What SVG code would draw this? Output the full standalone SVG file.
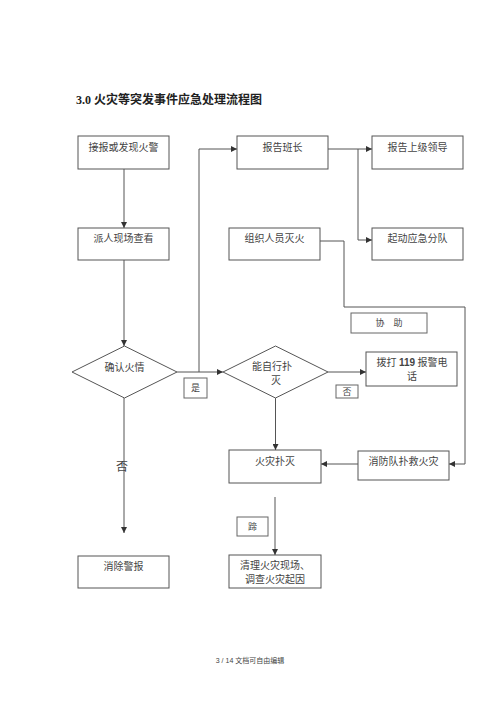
<svg xmlns="http://www.w3.org/2000/svg" width="500" height="708" viewBox="0 0 500 708">
<style>
.box{fill:#fff;stroke:#555;stroke-width:1}
.lbl{fill:#fff;stroke:#666;stroke-width:1}
.t{font-family:"Liberation Serif","Noto Sans CJK SC",serif;font-size:10px;fill:#444;text-anchor:middle}
.s{font-size:9px}
.c{fill:none;stroke:#555;stroke-width:1}
.title{font-family:"Liberation Serif","Noto Sans CJK SC",serif;font-size:12px;font-weight:bold;fill:#222}
.foot{font-family:"Liberation Sans","Noto Sans CJK SC",sans-serif;font-size:7px;fill:#444;text-anchor:middle}
</style>
<defs>
<marker id="ah" markerWidth="6" markerHeight="6" refX="6" refY="3" orient="auto" markerUnits="userSpaceOnUse">
<path d="M0,0 L6,3 L0,6 Z" fill="#333"/>
</marker>
</defs>
<rect width="500" height="708" fill="#fff"/>
<text class="title" x="76" y="104">3.0 火灾等突发事件应急处理流程图</text>

<g id="connectors">
<path class="c" d="M124,169 V228" marker-end="url(#ah)"/>
<path class="c" d="M124,260 V346" marker-end="url(#ah)"/>
<path class="c" d="M177,372 H223" marker-end="url(#ah)"/>
<path class="c" d="M199,372 V149 H237" marker-end="url(#ah)"/>
<path class="c" d="M328,149 H372" marker-end="url(#ah)"/>
<path class="c" d="M358,149 V240 H372" marker-end="url(#ah)"/>
<path class="c" d="M320,241 H344 V307 H465 V464 H449" marker-end="url(#ah)"/>
<path class="c" d="M328,372 H366" marker-end="url(#ah)"/>
<path class="c" d="M275.5,398 V450" marker-end="url(#ah)"/>
<path class="c" d="M358,464 H321" marker-end="url(#ah)"/>
<path class="c" d="M124,398 V533" marker-end="url(#ah)"/>
<path class="c" d="M275,497 V555" marker-end="url(#ah)"/>
</g>

<g id="n1"><rect class="box" x="78" y="136" width="91" height="33"/><text class="t" x="123.5" y="151">接报或发现火警</text></g>
<g id="n2"><rect class="box" x="78" y="228" width="91" height="32"/><text class="t" x="123.5" y="242">派人现场查看</text></g>
<g id="n3"><rect class="box" x="237" y="136" width="91" height="33"/><text class="t" x="282.5" y="151">报告班长</text></g>
<g id="n4"><rect class="box" x="372" y="136" width="91" height="33"/><text class="t" x="417.5" y="151">报告上级领导</text></g>
<g id="n5"><rect class="box" x="372" y="228" width="91" height="32"/><text class="t" x="417.5" y="242">起动应急分队</text></g>
<g id="n6"><rect class="box" x="229" y="228" width="91" height="32"/><text class="t" x="274.5" y="242">组织人员灭火</text></g>
<g id="n7"><rect class="lbl" x="351" y="313" width="76" height="20"/><text class="t s" x="389" y="326">协　助</text></g>
<g id="d1"><path class="box" d="M72,372 L124.5,346 L177,372 L124.5,398 Z"/><text class="t" x="124.5" y="371">确认火情</text></g>
<g id="l1"><rect class="lbl" x="184" y="378" width="23" height="20"/><text class="t s" x="195.5" y="391">是</text></g>
<g id="d2"><path class="box" d="M223,372 L275.5,346 L328,372 L275.5,398 Z"/><text class="t" x="272" y="370">能自行扑</text><text class="t" x="276" y="384">灭</text></g>
<g id="n8"><rect class="box" x="366" y="352" width="91" height="34"/><text class="t" x="412" y="366">拨打 <tspan style="font-family:'Liberation Sans',sans-serif;font-weight:bold">119</tspan> 报警电</text><text class="t" x="412" y="380">话</text></g>
<g id="l2"><rect class="lbl" x="336" y="385" width="22" height="13"/><text class="t s" x="347" y="395">否</text></g>
<g id="n9"><rect class="box" x="229" y="450" width="92" height="33"/><text class="t" x="275" y="465">火灾扑灭</text></g>
<g id="n10"><rect class="box" x="358" y="451" width="91" height="29"/><text class="t" x="403.5" y="465">消防队扑救火灾</text></g>
<g id="l3"><text class="t" x="122" y="471" style="font-size:12px">否</text></g>
<g id="l4"><rect class="lbl" x="237" y="517" width="31" height="19"/><text class="t s" x="252.5" y="530">蹄</text></g>
<g id="n11"><rect class="box" x="78" y="556" width="91" height="32"/><text class="t" x="123.5" y="570">消除警报</text></g>
<g id="n12"><rect class="box" x="229" y="555" width="92" height="33"/><text class="t" x="275" y="569">清理火灾现场、</text><text class="t" x="275" y="583">调查火灾起因</text></g>
<text class="foot" x="250" y="663">3 / 14 文档可自由编辑</text>
</svg>
